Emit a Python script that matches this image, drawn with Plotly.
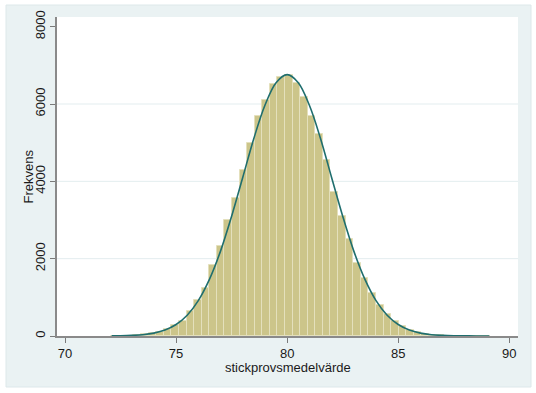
import plotly.graph_objects as go

# Histogram bins (Stata-style: start, width, counts)
bin_start = 72.06
bin_width = 0.341
counts = [3, 6, 12, 24, 40, 70, 110, 175, 280, 400,
          640, 940, 1250, 1830, 2330, 3010, 3560, 4290, 5000, 5690,
          6100, 6510, 6710, 6750, 6550, 6190, 5690, 5220, 4550, 3730,
          3110, 2500, 1900, 1490, 1100, 810, 580, 400, 255, 165,
          100, 60, 35, 20, 10, 5, 3, 2, 1, 1]

# Normal density overlay
curve_x = [72.1, 72.5, 73.0, 73.5, 74.0, 74.5, 75.0, 75.5, 76.0, 76.5, 77.0, 77.5,
           78.0, 78.5, 79.0, 79.5, 80.0, 80.5, 81.0, 81.5, 82.0, 82.5, 83.0, 83.5,
           84.0, 84.5, 85.0, 85.5, 86.0, 86.5, 87.0, 87.5, 88.0, 88.5, 89.1]
curve_y = [3, 6, 15, 34, 75, 154, 297, 537, 915, 1464, 2195, 3097,
           4100, 5109, 5966, 6552, 6760, 6552, 5966, 5109, 4100, 3097, 2195, 1464,
           915, 537, 297, 154, 75, 34, 15, 6, 3, 1, 0.4]

x_ticks = [70, 75, 80, 85, 90]
y_ticks = [0, 2000, 4000, 6000, 8000]
grid_vals = [2000, 4000, 6000]
x_title = "stickprovsmedelvärde"
y_title = "Frekvens"

bin_centers = [bin_start + (i + 0.5) * bin_width for i in range(len(counts))]

fig = go.Figure()
fig.add_trace(go.Bar(
    x=bin_centers, y=counts, width=bin_width,
    marker=dict(color="#CCC58A", line=dict(color="#E4E0BC", width=1)),
    hoverinfo="skip",
))
fig.add_trace(go.Scatter(
    x=curve_x, y=curve_y, mode="lines",
    line=dict(color="#1F6E6E", width=1.6, shape="spline", smoothing=1.0),
    hoverinfo="skip",
))

# plot area geometry (pixels)
L, R, T, B = 57, 518, 17, 336
W, H = 536, 393
pw, ph = R - L, B - T

def px_x(x):
    return (x - L) / pw

def px_y(y):
    return (B - y) / ph

shapes = [
    dict(type="rect", xref="paper", yref="paper",
         x0=px_x(6), x1=px_x(531), y0=px_y(387), y1=px_y(5),
         fillcolor="#EAF2F3", line=dict(color="#DDE8EA", width=1), layer="below"),
    dict(type="rect", xref="paper", yref="paper",
         x0=0, x1=1, y0=0, y1=1,
         fillcolor="white", line=dict(width=0), layer="below"),
]
for g in grid_vals:
    shapes.append(dict(type="line", xref="paper", yref="y", x0=0, x1=1, y0=g, y1=g,
                       line=dict(color="#E3EDEF", width=1), layer="below"))

annotations = [
    dict(text=x_title, xref="paper", yref="paper", x=0.5, y=px_y(367),
         xanchor="center", yanchor="middle", showarrow=False, font=dict(size=13)),
    dict(text=y_title, xref="paper", yref="paper", x=px_x(28), y=0.5,
         xanchor="center", yanchor="middle", showarrow=False, textangle=-90,
         font=dict(size=13)),
]

fig.update_layout(
    width=W, height=H,
    margin=dict(l=L, r=W - R, t=T, b=H - B, autoexpand=False),
    paper_bgcolor="white", plot_bgcolor="white",
    showlegend=False, bargap=0,
    font=dict(family="Liberation Sans, Arial, sans-serif", size=13, color="#1a1a1a"),
    shapes=shapes,
    annotations=annotations,
    xaxis=dict(
        range=[69.64, 90.39], tickmode="array", tickvals=x_ticks,
        ticks="outside", ticklen=5, tickcolor="#7a7a7a", tickwidth=1,
        showline=True, linecolor="#8a8a8a", linewidth=1.5,
        showgrid=False, zeroline=False, automargin=False,
        tickfont=dict(size=13),
    ),
    yaxis=dict(
        range=[0, 8250], tickmode="array", tickvals=y_ticks,
        ticks="outside", ticklen=5, tickcolor="#7a7a7a", tickwidth=1,
        showline=True, linecolor="#8a8a8a", linewidth=1.5,
        showgrid=False, zeroline=False, tickangle=-90, automargin=False,
        tickfont=dict(size=13),
    ),
)

fig.write_html(
    "out.html",
    config={"displayModeBar": False},
    post_script="document.body.style.margin='0';document.body.style.overflow='hidden';",
)
